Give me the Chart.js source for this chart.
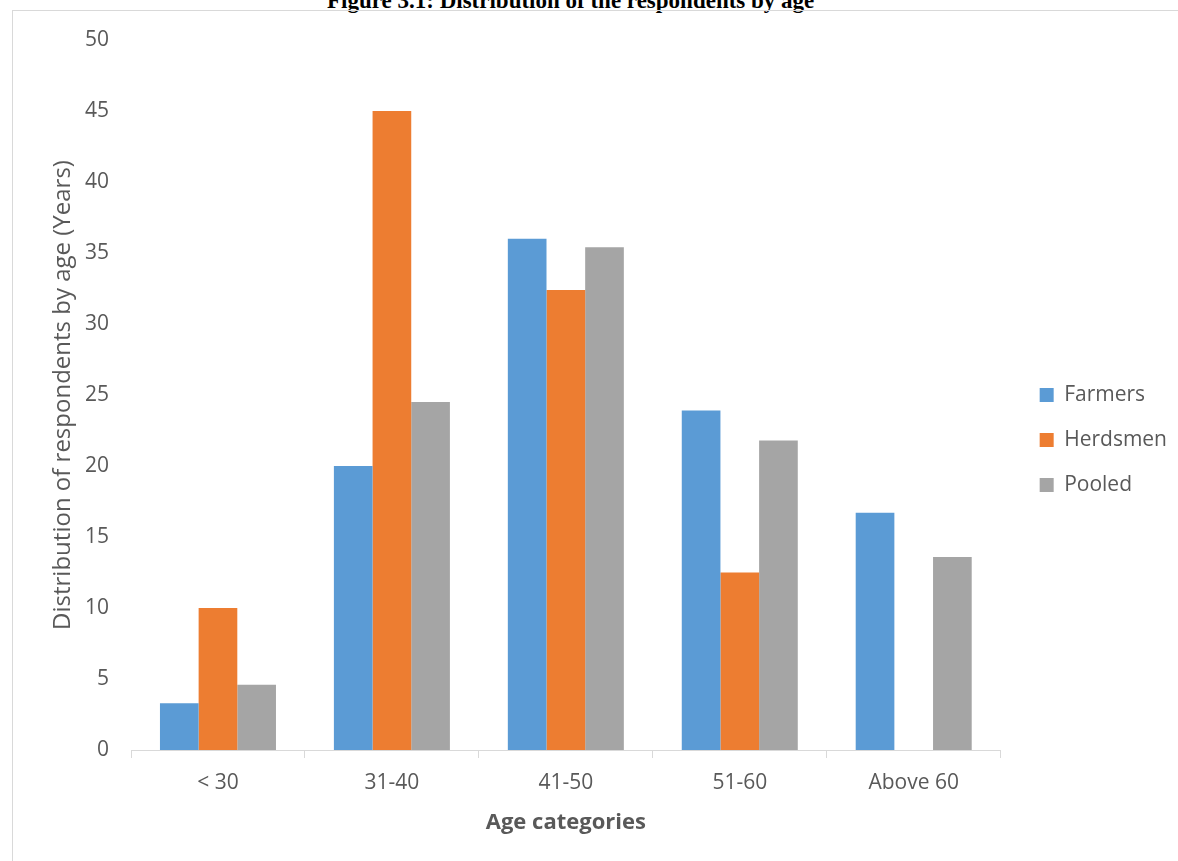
<!DOCTYPE html>
<html lang="en">
  <head>
    <meta charset="UTF-8" />
    <title>Distribution of the respondents by age</title>
    <script src="https://cdn.jsdelivr.net/npm/chart.js"></script>
    <style>
      html,
      body {
        margin: 0;
        padding: 0;
        background: #ffffff;
        overflow: hidden;
      }
      .frame {
        position: absolute;
        left: 12px;
        top: 10px;
        width: 1180px;
        height: 900px;
        border-left: 1px solid #d9d9d9;
        border-top: 1px solid #d9d9d9;
      }
      .fig-title {
        position: absolute;
        left: 327px;
        top: -12px;
        font-family: "Liberation Serif", "DejaVu Serif", serif;
        font-weight: bold;
        font-size: 23px;
        color: #000;
        white-space: nowrap;
      }
      .chart-box {
        position: absolute;
        left: 13px;
        top: 11px;
        width: 1165px;
        height: 850px;
      }
    </style>
  </head>
  <body>
    <div class="fig-title">Figure 3.1: Distribution of the respondents by age</div>
    <div class="frame"></div>
    <div class="chart-box">
      <canvas id="ageChart"></canvas>
    </div>
    <script>
      const categories = ["< 30", "31-40", "41-50", "51-60", "Above 60"];
      const farmers = [3.3, 20, 36, 23.9, 16.7];
      const herdsmen = [10, 45, 32.4, 12.5, 0];
      const pooled = [4.6, 24.5, 35.4, 21.8, 13.6];
      const seriesNames = ["Farmers", "Herdsmen", "Pooled"];
      const seriesColors = ["#5b9bd5", "#ed7d31", "#a5a5a5"];

      const font = "'Open Sans', 'Noto Sans', sans-serif";
      const textColor = "#595959";

      // nudge the legend a little, like the excel one
      const legendNudge = {
        id: "legendNudge",
        afterLayout(chart) {
          const lg = chart.legend;
          lg.left += 15;
          lg.right += 15;
          lg.top += 2;
          lg.bottom += 2;
        },
      };

      const ctx = document.getElementById("ageChart").getContext("2d");
      const ageChart = new Chart(ctx, {
        type: "bar",
        data: {
          labels: categories,
          datasets: [farmers, herdsmen, pooled].map((vals, i) => ({
            label: seriesNames[i],
            data: vals,
            backgroundColor: seriesColors[i],
            borderWidth: 0,
            categoryPercentage: 0.667,
            barPercentage: 1.0,
          })),
        },
        plugins: [legendNudge],
        options: {
          responsive: true,
          maintainAspectRatio: false,
          animation: false,
          layout: {
            padding: { top: 29, right: 16, left: 36, bottom: 25 },
          },
          plugins: {
            tooltip: { enabled: false },
            legend: {
              position: "right",
              labels: {
                boxWidth: 14,
                boxHeight: 14,
                padding: 24,
                color: textColor,
                font: { family: font, size: 21 },
              },
            },
          },
          scales: {
            x: {
              grid: {
                display: true,
                offset: true,
                drawOnChartArea: false,
                drawTicks: true,
                tickLength: 8,
                color: "#d9d9d9",
              },
              border: { display: true, color: "#d9d9d9", width: 1 },
              ticks: {
                color: textColor,
                padding: 12,
                font: { family: font, size: 21 },
              },
              title: {
                display: true,
                text: "Age categories",
                color: textColor,
                padding: { top: 8, bottom: 0 },
                font: { family: font, size: 22, weight: "bold" },
              },
              afterFit: (scale) => {
                scale.height = 86;
              },
            },
            y: {
              min: 0,
              max: 50,
              ticks: {
                stepSize: 5,
                color: textColor,
                padding: 2,
                font: { family: font, size: 21 },
              },
              // hidden tick marks, only used to keep the labels off the axis
              grid: { display: false, drawTicks: true, tickLength: 20 },
              border: { display: false },
              title: {
                display: true,
                text: "Distribution of respondents by age (Years)",
                color: textColor,
                padding: { top: 0, bottom: 8 },
                font: { family: font, size: 24 },
              },
              afterFit: (scale) => {
                scale.width = 82;
              },
            },
          },
        },
      });
    </script>
  </body>
</html>
